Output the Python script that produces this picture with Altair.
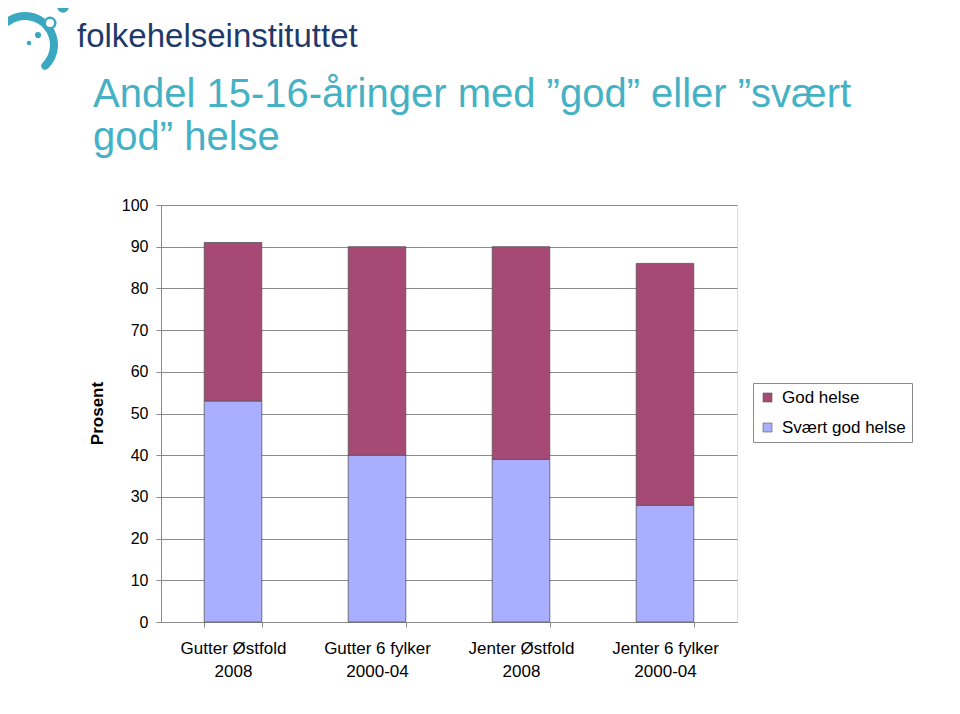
import altair as alt
import pandas as pd

groups = ["Gutter Østfold", "Gutter 6 fylker", "Jenter Østfold", "Jenter 6 fylker"]
periods = ["2008", "2000-04", "2008", "2000-04"]
svaert_god = [53, 40, 39, 28]
god = [38, 50, 51, 58]
series = ["God helse", "Svært god helse"]
colors = ["#A64A75", "#AAAEFF"]

categories = [g + "|" + p for g, p in zip(groups, periods)]
rows = []
for c, s, g in zip(categories, svaert_god, god):
    rows.append({"kategori": c, "serie": "Svært god helse", "verdi": s, "ord": 0})
    rows.append({"kategori": c, "serie": "God helse", "verdi": g, "ord": 1})
df = pd.DataFrame(rows)

FONT = "Liberation Sans"
TEAL = "#45B1C4"
LOGO = "#3AA8C0"

bars = alt.Chart(df).mark_bar(stroke="#555555", strokeWidth=0.8).encode(
    x=alt.X("kategori:N", sort=categories,
            scale=alt.Scale(paddingInner=0.6, paddingOuter=0.3),
            axis=alt.Axis(title=None, labelAngle=0, labelExpr="split(datum.label, '|')",
                          labelFont=FONT, labelFontSize=17, labelColor="#000000",
                          labelLineHeight=23, labelPadding=13, tickBand="extent",
                          tickSize=5, tickColor="#8a8a8a", domainColor="#8a8a8a",
                          grid=False)),
    y=alt.Y("verdi:Q", stack="zero",
            scale=alt.Scale(domain=[0, 100], nice=False),
            axis=alt.Axis(title="Prosent", values=list(range(0, 101, 10)),
                          labelFont=FONT, labelFontSize=16, labelColor="#000000",
                          labelPadding=8, tickSize=5, tickColor="#8a8a8a",
                          domainColor="#8a8a8a", gridColor="#8a8a8a",
                          titleFont=FONT, titleFontSize=17, titleFontWeight="bold",
                          titleColor="#000000", titleX=-64, titleY=208,
                          titleBaseline="middle")),
    color=alt.Color("serie:N", scale=alt.Scale(domain=series, range=colors),
                    legend=alt.Legend(title=None, orient="none", legendX=592, legendY=178,
                                      labelFont=FONT, labelFontSize=17, labelColor="#000000",
                                      symbolType="square", symbolSize=81,
                                      symbolStrokeColor="#555555", symbolStrokeWidth=0.6,
                                      strokeColor="#8a8a8a", padding=6, rowPadding=12,
                                      labelOffset=6, fillColor="#ffffff")),
    order=alt.Order("ord:Q"),
)

one = pd.DataFrame({"a": [0]})

title1 = alt.Chart(one).mark_text(align="left", baseline="alphabetic", font=FONT,
                                  fontSize=40, color=TEAL).encode(
    x=alt.value(-68), y=alt.value(-98),
    text=alt.value("Andel 15-16-åringer med ”god” eller ”svært"))
title2 = alt.Chart(one).mark_text(align="left", baseline="alphabetic", font=FONT,
                                  fontSize=40, color=TEAL).encode(
    x=alt.value(-68), y=alt.value(-55), text=alt.value("god” helse"))

logo_text = alt.Chart(one).mark_text(align="left", baseline="alphabetic", font=FONT,
                                     fontSize=33, color="#1F3A6A").encode(
    x=alt.value(77 - 161), y=alt.value(47 - 205), text=alt.value("folkehelseinstituttet"))

swoosh = alt.Chart(one).mark_arc(theta=5.52, theta2=8.79, radius=33, radius2=25,
                                 cornerRadius=4, color=LOGO).encode(
    x=alt.value(25 - 161), y=alt.value(45 - 205))
dot_big = alt.Chart(one).mark_circle(size=133, color=LOGO, opacity=1).encode(
    x=alt.value(63 - 161), y=alt.value(7 - 205))
dot_ring = alt.Chart(one).mark_circle(size=170, color=LOGO, opacity=1).encode(
    x=alt.value(50 - 161), y=alt.value(23 - 205))
dot_white = alt.Chart(one).mark_circle(size=64, color="#ffffff", opacity=1).encode(
    x=alt.value(50 - 161), y=alt.value(23 - 205))
dot_s1 = alt.Chart(one).mark_circle(size=38, color=LOGO, opacity=1).encode(
    x=alt.value(38 - 161), y=alt.value(35 - 205))
dot_s2 = alt.Chart(one).mark_circle(size=20, color=LOGO, opacity=1).encode(
    x=alt.value(29 - 161), y=alt.value(43 - 205))

chart = alt.layer(bars, title1, title2, logo_text, swoosh, dot_big, dot_ring, dot_white,
                  dot_s1, dot_s2).properties(
    width=576, height=417,
    autosize=alt.AutoSizeParams(type="none"),
    padding={"left": 153, "top": 197, "right": 215, "bottom": 84},
).configure_view(stroke="#d0d0d0", strokeWidth=1).configure(background="#ffffff")

chart.save("out.html", embed_options={"renderer": "svg", "actions": False})
